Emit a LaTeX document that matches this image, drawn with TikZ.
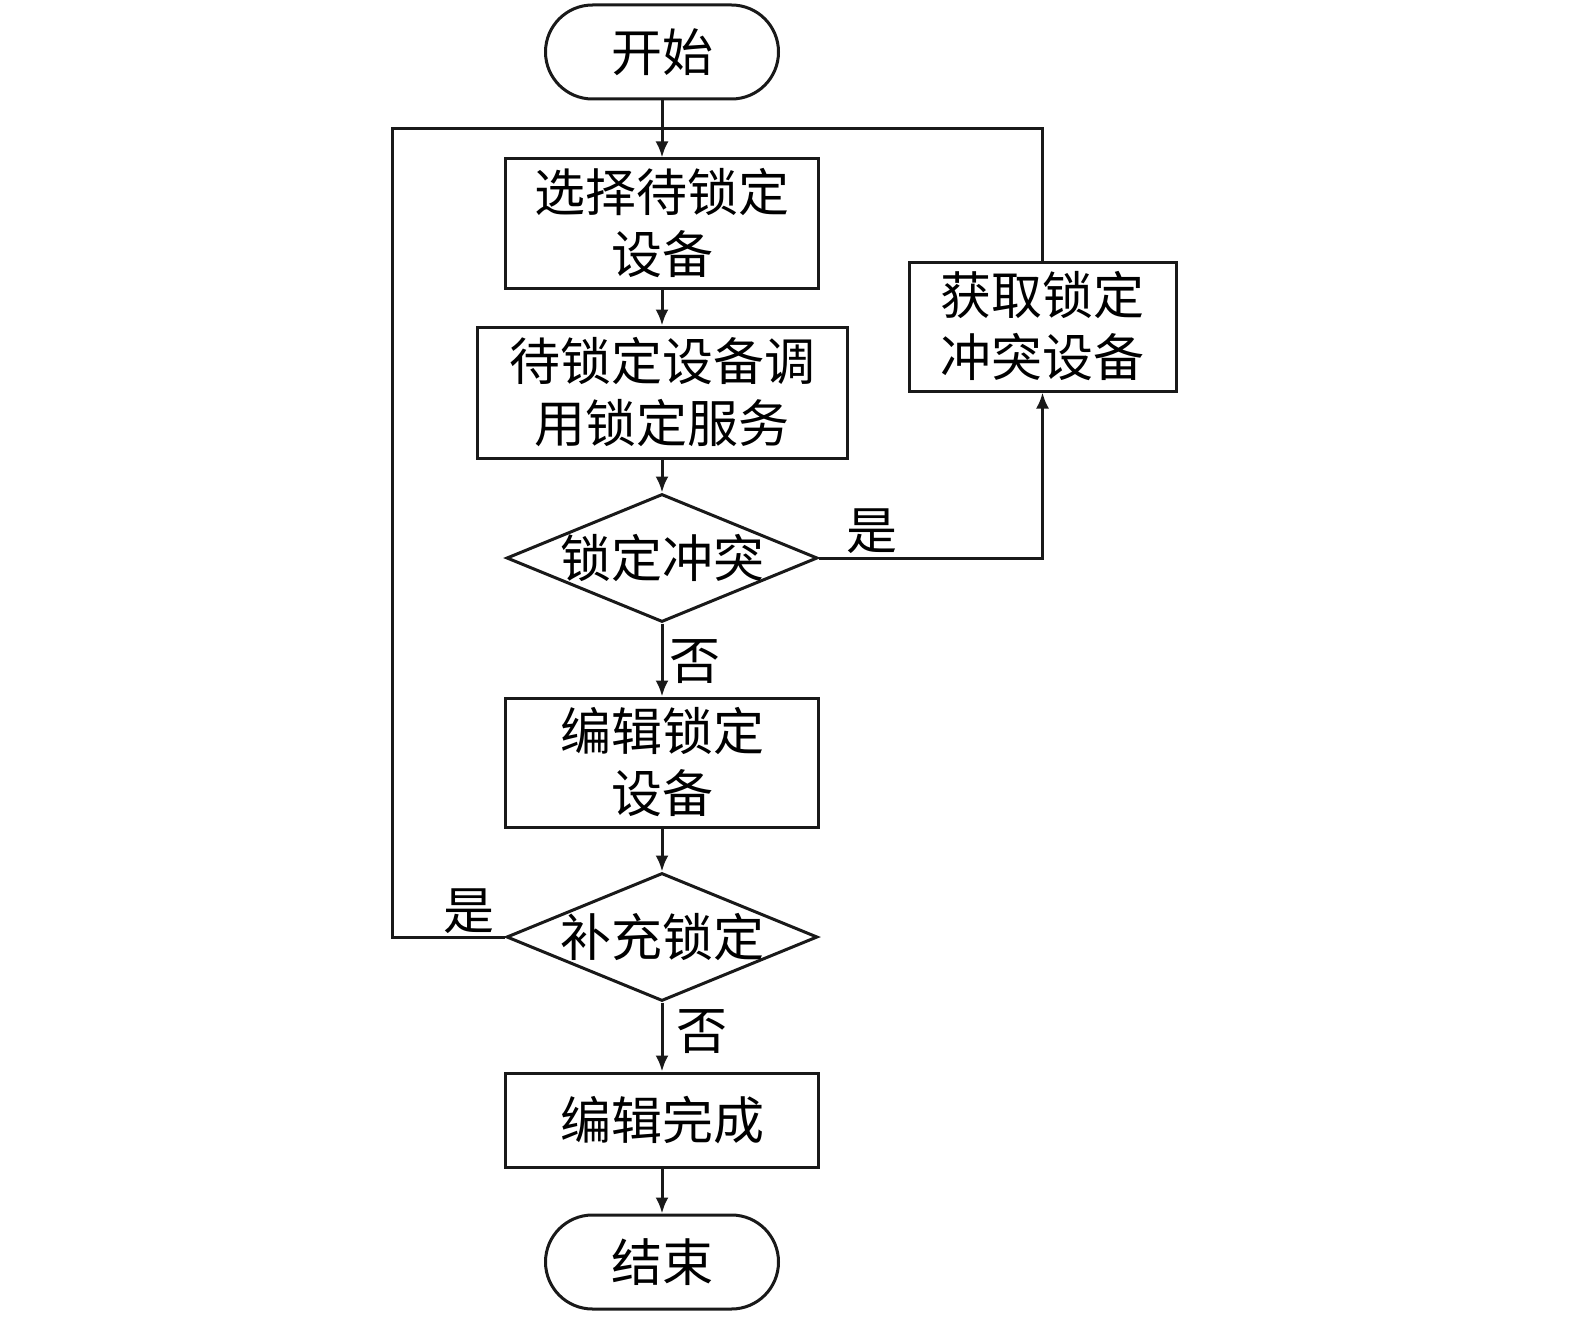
\documentclass[tikz,border=0pt]{standalone}
\usepackage{fontspec}
\newfontfamily\cjk{Noto Sans CJK SC}
\usetikzlibrary{arrows.meta,shapes.geometric}
\begin{document}
\begin{tikzpicture}[x=1pt,y=-1pt,
  every node/.style={font=\cjk\fontsize{51}{62}\selectfont, text=black},
  line/.style={line width=3pt, draw=black!90},
  tip/.style={-{Latex[length=16pt,width=13pt]}},
  pill/.style={line, rectangle, rounded corners=47pt, minimum width=233pt, minimum height=94pt, inner sep=0pt},
  box/.style={line, rectangle, align=center, inner sep=0pt},
  dec/.style={line, diamond, minimum width=311pt, minimum height=128pt, inner sep=0pt},
  lbl/.style={inner sep=0pt}
]
\useasboundingbox (0,0) rectangle (1575,1319);
\node[pill] (start) at (662,52) {开始};
\node[box, minimum width=313pt, minimum height=129pt] (b1) at (662,223.5) {选择待锁定\\设备};
\node[box, minimum width=370pt, minimum height=131pt] (b2) at (662,392.5) {待锁定设备调\\用锁定服务};
\node[dec] (d1) at (662,558) {\makebox[0pt]{锁定冲突}};
\node[box, minimum width=313pt, minimum height=129pt] (b3) at (662,762.5) {编辑锁定\\设备};
\node[dec] (d2) at (662,937) {\makebox[0pt]{补充锁定}};
\node[box, minimum width=313pt, minimum height=94pt] (b4) at (662,1120) {编辑完成};
\node[pill] (end) at (662,1262) {结束};
\node[box, minimum width=267pt, minimum height=129pt] (rb) at (1042.5,326.5) {获取锁定\\冲突设备};
\coordinate (tl) at (392,129);
\coordinate (tr) at (1042.5,129);
\coordinate (mr) at (1042.5,558);

\draw[line, tip] (start) -- (b1);
\draw[line, tip] (b1) -- (b2);
\draw[line, tip] (b2) -- (d1.north);
\draw[line, tip] (d1.south) -- (b3);
\draw[line, tip] (b3) -- (d2.north);
\draw[line, tip] (d2.south) -- (b4);
\draw[line, tip] (b4) -- (end);
\draw[line, tip] (d1.east) -- (mr) -- (rb.south);
\draw[line] (d2.west) -| (tl) -- (tr) -- (rb.north);

\node[lbl] (y1) at (872,531) {是};
\node[lbl] (n1) at (695,662) {否};
\node[lbl] (y2) at (469,911) {是};
\node[lbl] (n2) at (702,1032) {否};
\end{tikzpicture}
\end{document}
